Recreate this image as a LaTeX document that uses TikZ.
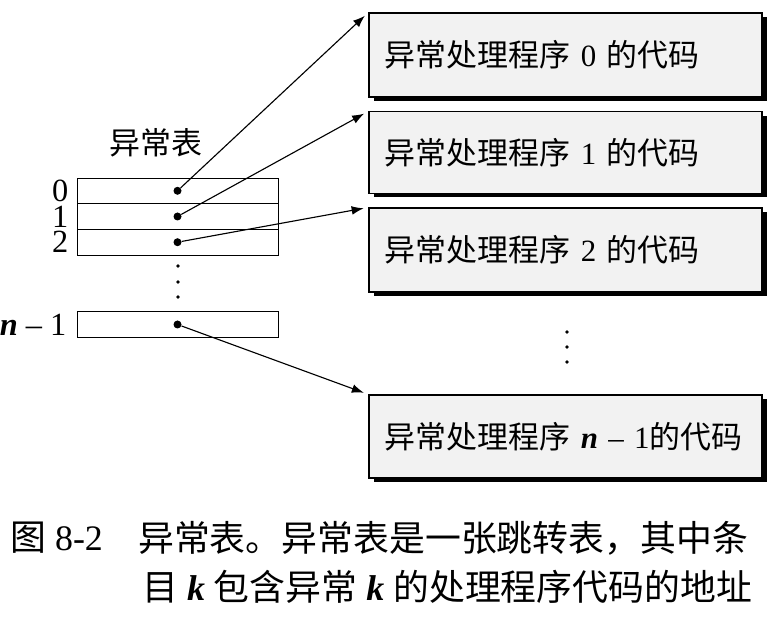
\documentclass[tikz,border=0pt]{standalone}
\usepackage{fontspec}
\setmainfont{Liberation Serif}
\newfontfamily\cjk{Noto Sans CJK SC}
\usepackage{tikz}
\usetikzlibrary{arrows.meta,positioning,shadows}
\tikzset{%
  handler/.style = {shape=rectangle, draw, line width=0.8pt,%
                    fill=gray!10, align=left,%
                    minimum width=9.825cm, minimum height=2.1cm,%
                    text width=9.025cm, inner xsep=0.4cm,%
                    drop shadow={shadow xshift=0.12cm, shadow yshift=-0.1cm,%
                                 fill=black, opacity=1},%
                    font=\fontsize{22}{26}\selectfont},%
  entry/.style   = {shape=rectangle, draw, line width=0.6pt, fill=white,%
                    minimum width=5.025cm, minimum height=0.642cm, inner sep=0pt},%
  dot/.style     = {circle, fill=black, inner sep=0pt, minimum size=0.2cm},%
  idx/.style     = {font=\fontsize{23}{23}\selectfont, inner sep=0pt},%
  caption/.style = {anchor=west, inner sep=0pt, font=\fontsize{25.5}{28}\selectfont},%
  jump/.style    = {-{Latex[length=0.3cm,width=0.22cm]}, line width=0.8pt,%
                    shorten >=0.12cm}%
}

\begin{document}
\begin{tikzpicture}[x=0.025cm, y=-0.025cm]%
	\useasboundingbox (0,0) rectangle (784,622);
	\node [font=\fontsize{22}{26}\selectfont] (title) at (156,143) {\cjk 异常表};
	\node [entry] (r0) at (177.5,190.8) {};
	\node [entry] (r1) at (177.5,216.5) {};
	\node [entry] (r2) at (177.5,242.2) {};
	\node [entry] (rn) at (177.5,324.5) {};
	\node [idx, left=0.2cm of r0] (i0) {0};
	\node [idx, left=0.2cm of r1] (i1) {1};
	\node [idx, left=0.2cm of r2] (i2) {2};
	\node [idx, left=0.25cm of rn] (in) {\textbf{\textit{n}} – 1};
	\foreach \r in {r0,r1,r2,rn}
		\node [dot] (d\r) at (\r) {};
	\foreach \y in {266,282,297}
		\fill (178,\y) circle (0.045cm);
	\node [handler] (h0) at (565.5,55) {{\cjk 异常处理程序} 0 {\cjk 的代码}};
	\node [handler, minimum height=2.03cm] (h1) at (565.5,152.5) {{\cjk 异常处理程序} 1 {\cjk 的代码}};
	\node [handler] (h2) at (565.5,250) {{\cjk 异常处理程序} 2 {\cjk 的代码}};
	\node [handler, minimum height=2.075cm] (hn) at (565.5,436.5) {{\cjk 异常处理程序} \textbf{\textit{n}} – 1{\cjk 的代码}};
	\foreach \y in {332,347,362}
		\fill (567,\y) circle (0.045cm);
	\draw [jump] (dr0) -- (h0.north west);
	\draw [jump] (dr1) -- (h1.north west);
	\draw [jump] (dr2) -- (h2.north west);
	\draw [jump] (drn) -- (hn.north west);
	\node [caption] (fig) at (10,538) {{\cjk 图} 8-2};
	\node [caption] (cap1) at (138,538) {\cjk 异常表。异常表是一张跳转表，其中条};
	\node [caption] (cap2) at (142,587) {{\cjk 目} \textbf{\textit{k}} {\cjk 包含异常} \textbf{\textit{k}} {\cjk 的处理程序代码的地址}};
\end{tikzpicture}
\end{document}
